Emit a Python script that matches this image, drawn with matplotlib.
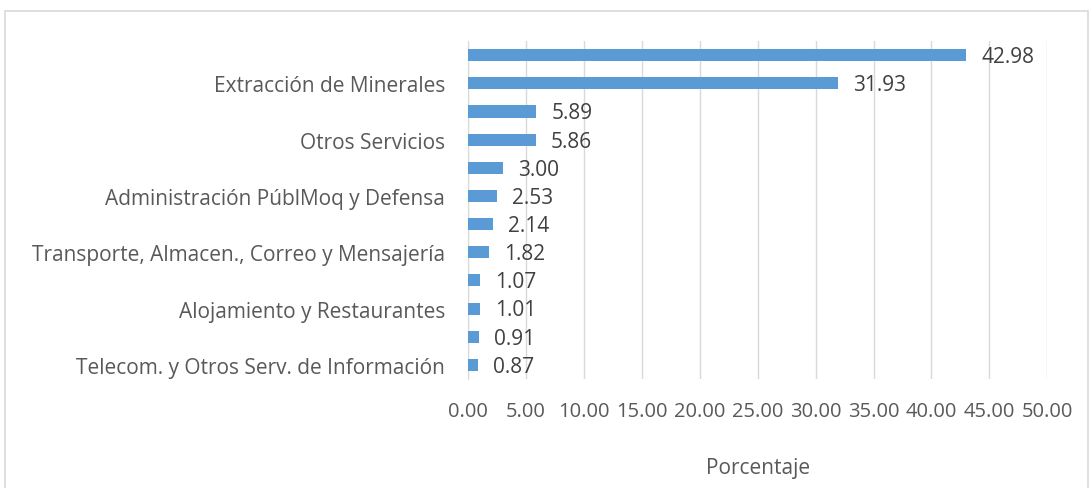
import numpy as np
import matplotlib.pyplot as plt
from matplotlib.patches import Rectangle

plt.rcParams['font.family'] = ['Open Sans', 'DejaVu Sans']

# categories top to bottom (Excel only shows every other label)
categorias = ['', 'Extracción de Minerales', '', 'Otros Servicios', '',
              'Administración PúblMoq y Defensa', '',
              'Transporte, Almacen., Correo y Mensajería', '',
              'Alojamiento y Restaurantes', '',
              'Telecom. y Otros Serv. de Información']
valores = [42.98, 31.93, 5.89, 5.86, 3.00, 2.53, 2.14, 1.82, 1.07, 1.01, 0.91, 0.87]
xticks = np.arange(0, 55, 5)

fig = plt.figure(figsize=(10.91, 4.89), dpi=100)
ax = fig.add_axes([0.429, 0.223, 0.531, 0.691])

# outer chart border
fig.patches.append(Rectangle((0.005, -0.01), 0.992, 0.985, transform=fig.transFigure,
                             fill=False, edgecolor='#d9d9d9', lw=1.2))

y = np.arange(len(valores))
ax.barh(y, valores, height=0.43, color='#5b9bd5', zorder=3)
for yi, v in zip(y, valores):
    ax.text(v + 1.3, yi + 0.05, f'{v:.2f}', va='center', ha='left',
            fontsize=15, color='#404040')

ax.set_ylim(len(valores) - 0.5, -0.5)
ax.set_xlim(0, 50)
ax.set_yticks(y)
ax.set_yticklabels(categorias, fontsize=15, color='#595959')
ax.set_xticks(xticks)
ax.set_xticklabels([f'{t:.2f}' for t in xticks], fontsize=14.5, color='#595959')
ax.tick_params(length=0)
ax.tick_params(axis='y', pad=16.5)
ax.tick_params(axis='x', pad=16)
ax.grid(axis='x', color='#d9d9d9', lw=1, zorder=0)
for s in ['top', 'right', 'bottom']:
    ax.spines[s].set_visible(False)
ax.spines['left'].set_color('#d9d9d9')
ax.set_xlabel('Porcentaje', fontsize=15, color='#595959', labelpad=26)

fig.savefig('out.png', dpi=100)
